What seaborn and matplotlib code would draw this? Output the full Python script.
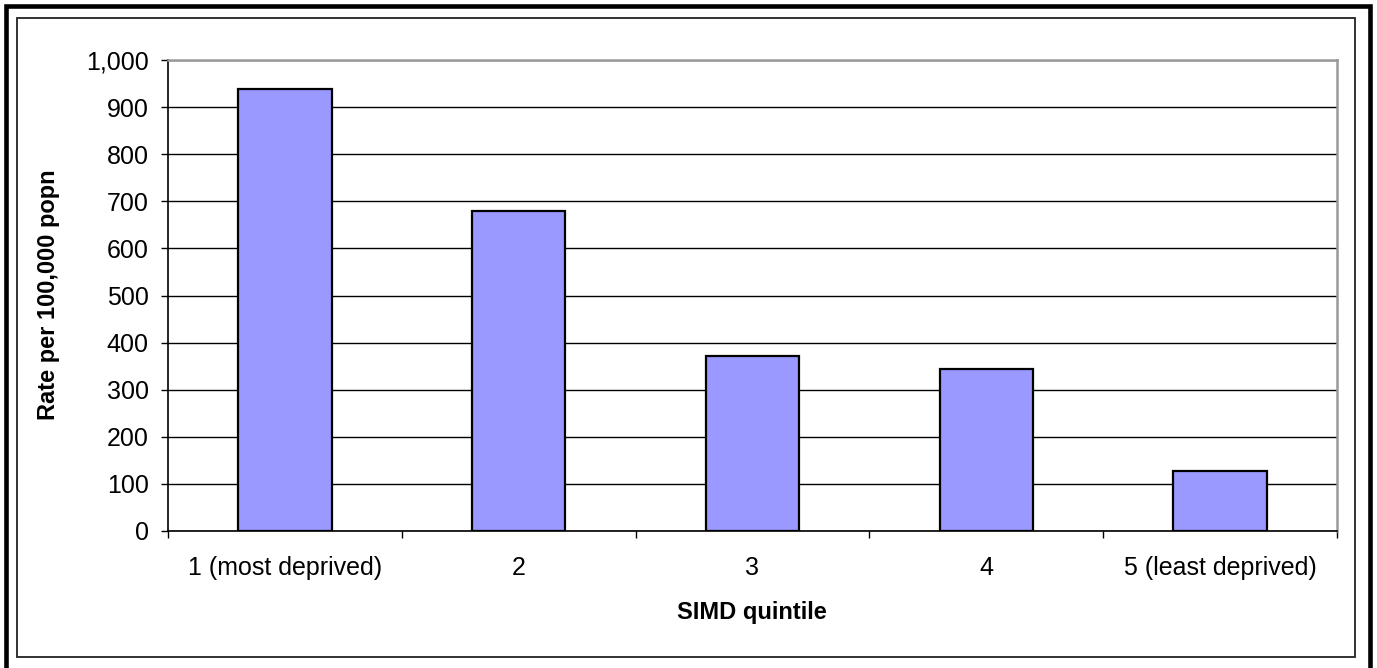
import matplotlib
matplotlib.use("Agg")
import matplotlib.pyplot as plt
import matplotlib.patches as mpatches
from matplotlib.ticker import FuncFormatter, FixedLocator
import seaborn as sns
import pandas as pd

# SIMD quintile rates per 100,000 population
quintiles = ["1 (most deprived)", "2", "3", "4", "5 (least deprived)"]
rates = [938, 679, 371, 345, 127]
y_ticks = list(range(0, 1001, 100))

sns.set_theme(style="white")
plt.rcParams["font.family"] = ["Liberation Sans", "DejaVu Sans"]

W, H = 1377, 668
fig = plt.figure(figsize=(W / 100, H / 100), dpi=100)
fig.patch.set_facecolor("white")


def px_box(x0, y0, x1, y1):
    return [x0 / W, 1 - y1 / H, (x1 - x0) / W, (y1 - y0) / H]


ax = fig.add_axes(px_box(168, 60, 1337, 531))

df = pd.DataFrame({"quintile": quintiles, "rate": rates})
sns.barplot(data=df, x="quintile", y="rate", color="#9999FF",
            edgecolor="black", linewidth=1.6, width=0.4, saturation=1,
            ax=ax, zorder=3)

ax.set_xlim(-0.5, len(quintiles) - 0.5)
ax.set_ylim(0, 1000)
ax.set_axisbelow(True)

# y axis
ax.yaxis.set_major_locator(FixedLocator(y_ticks))
ax.yaxis.set_major_formatter(FuncFormatter(lambda v, p: f"{int(v):,}"))
ax.yaxis.grid(True, color="black", linewidth=1.0)
ax.tick_params(axis="y", which="major", left=True, length=5, width=1,
               color="black", direction="out", pad=9, labelsize=18,
               labelcolor="black")

# x axis: labels centred on bars, tick marks on category boundaries
ax.set_xticks(range(len(quintiles)))
ax.set_xticklabels(quintiles)
ax.set_xticks([i - 0.5 for i in range(len(quintiles) + 1)], minor=True)
ax.tick_params(axis="x", which="major", bottom=True, length=0, pad=18,
               labelsize=18, labelcolor="black")
ax.tick_params(axis="x", which="minor", bottom=True, length=5, width=1,
               color="black", direction="out")

ax.set_xlabel("")
ax.set_ylabel("")

for side in ("left", "bottom"):
    ax.spines[side].set_color("black")
    ax.spines[side].set_linewidth(1.2)
for side in ("top", "right"):
    ax.spines[side].set_color("#9a9a9a")
    ax.spines[side].set_linewidth(1.8)
for s in ax.spines.values():
    s.set_visible(True)
    s.set_zorder(4)

# axis titles
fig.text(48 / W, 1 - 295 / H, "Rate per 100,000 popn", rotation=90,
         ha="center", va="center", fontsize=17, fontweight="bold",
         color="black")
fig.text(752 / W, 1 - 612 / H, "SIMD quintile", ha="center", va="center",
         fontsize=17, fontweight="bold", color="black")

# chart frame: thick outer border and thin inner border
outer = mpatches.Rectangle((6 / W, 1 - 690 / H), (1369.5 - 6) / W,
                           (690 - 6) / H, transform=fig.transFigure,
                           fill=False, edgecolor="black", linewidth=3.3,
                           clip_on=False)
inner = mpatches.Rectangle((17 / W, 1 - 657 / H), (1355 - 17) / W,
                           (657 - 18) / H, transform=fig.transFigure,
                           fill=False, edgecolor="#222222", linewidth=1.3,
                           clip_on=False)
fig.patches.extend([outer, inner])

fig.savefig("out.png", dpi=100, facecolor="white")
